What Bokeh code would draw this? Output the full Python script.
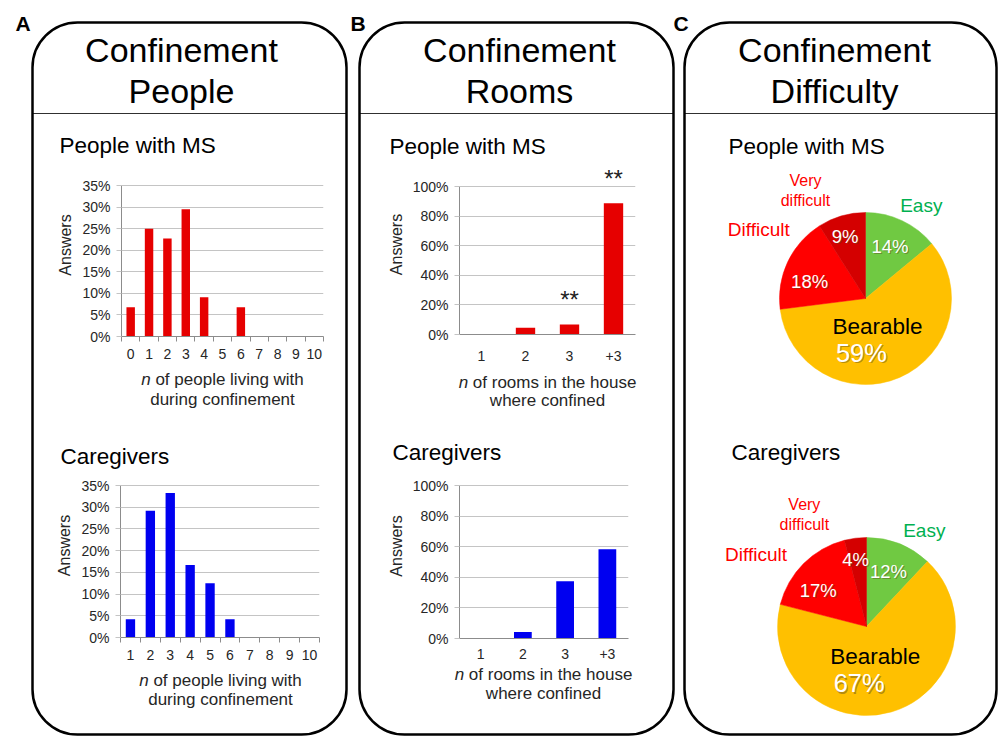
import numpy as np
from bokeh.plotting import figure
from bokeh.layouts import column
from bokeh.models import (ColumnDataSource, FixedTicker, BoxAnnotation, LabelSet,
                          PrintfTickFormatter, Range1d)
from bokeh.embed import file_html
from bokeh.resources import INLINE
from bokeh.core.properties import value

W, H = 998, 736
FONT = "Liberation Sans"

# ---------------- data ----------------
ms_people_cats = ["0", "1", "2", "3", "4", "5", "6", "7", "8", "9", "10"]
ms_people_pct = [6.8, 25.0, 22.7, 29.5, 9.1, 0.0, 6.8, 0.0, 0.0, 0.0, 0.0]
cg_people_cats = ["1", "2", "3", "4", "5", "6", "7", "8", "9", "10"]
cg_people_pct = [4.2, 29.2, 33.3, 16.7, 12.5, 4.2, 0.0, 0.0, 0.0, 0.0]
room_cats = ["1", "2", "3", "+3"]
ms_rooms_pct = [0.0, 4.5, 6.8, 88.6]
ms_rooms_sig = ["", "", "**", "**"]
cg_rooms_pct = [0.0, 4.2, 37.5, 58.3]
cg_rooms_sig = ["", "", "", ""]
difficulty_cats = ["Easy", "Bearable", "Difficult", "Very difficult"]
ms_difficulty_pct = [14, 59, 18, 9]
cg_difficulty_pct = [12, 67, 17, 4]
people_ticks = [0, 5, 10, 15, 20, 25, 30, 35]
rooms_ticks = [0, 20, 40, 60, 80, 100]

# ---------------- styles ----------------
RED = "#E60000"
BLUE = "#0000F0"
PIE_COLORS = ["#70C942", "#FFC000", "#FF0000", "#D40000"]
AXIS_GRAY = "#8C8C8C"
GRID_GRAY = "#C4C4C4"
TICK_TEXT = "#262626"

AW = {" ": 278, "a": 556, "b": 556, "c": 500, "d": 556, "e": 556, "f": 278, "g": 556,
      "h": 556, "i": 222, "l": 222, "m": 833, "n": 556, "o": 556, "p": 556, "r": 333,
      "s": 500, "t": 278, "u": 556, "v": 500, "w": 722}


def tw(s, size):
    return sum(AW.get(ch, 556) for ch in s) / 1000.0 * size


# ---------------- background canvas ----------------
bg = figure(width=W, height=H, x_range=Range1d(0, W), y_range=Range1d(0, H),
            x_axis_type=None, y_axis_type=None, output_backend="svg",
            toolbar_location=None, min_border=0, outline_line_color=None,
            background_fill_color="white", border_fill_color="white")
bg.frame_align = False


def txt(x, y, s, size, color="black", align="left", baseline="middle",
        style="normal", alpha=1.0):
    bg.text(x=[x], y=[H - y], text=[s], text_font=value(FONT),
            text_font_size=f"{size}px", text_color=color, text_align=align,
            text_baseline=baseline, text_font_style=style, text_alpha=alpha)


panels = [(32, 346, 181, "A", 15, ["Confinement", "People"]),
          (359, 673, 519, "B", 350, ["Confinement", "Rooms"]),
          (684, 996, 834, "C", 673, ["Confinement", "Difficulty"])]
for l, r, cx, letter, lx, head in panels:
    bg.add_layout(BoxAnnotation(left=l, right=r, top=H - 22, bottom=H - 734,
                                border_radius=45, fill_color=None, fill_alpha=0,
                                line_color="black", line_alpha=1.0, line_width=2.5))
    bg.segment(x0=[l], x1=[r], y0=[H - 113], y1=[H - 113], line_color="#303030",
               line_width=1.2)
    txt(cx, 49, head[0], 34, align="center")
    txt(cx, 90, head[1], 34, align="center")
    txt(lx, 22.5, letter, 21, style="bold")

# section subtitles
for x, y, s in [(59, 144.5, "People with MS"), (60, 456, "Caregivers"),
                (389, 146, "People with MS"), (392, 452, "Caregivers"),
                (728, 146, "People with MS"), (731, 452, "Caregivers")]:
    txt(x, y, s, 22.5)


def x_title(cx, y1, y2, rest, line2, size=17):
    total = tw("n " + rest, size)
    x0 = cx - total / 2
    txt(x0, y1, "n", size, color=TICK_TEXT, style="italic")
    txt(x0 + tw("n ", size), y1, rest, size, color=TICK_TEXT)
    txt(cx, y2, line2, size, color=TICK_TEXT, align="center")


x_title(222, 379, 399, "of people living with", "during confinement")
x_title(220, 680, 699, "of people living with", "during confinement")
x_title(547, 382, 400, "of rooms in the house", "where confined")
x_title(543, 674, 693, "of rooms in the house", "where confined")


# ---------------- pies ----------------
def pie(cx, cy, r, pct):
    fr = np.array(pct, dtype=float) / np.sum(pct)
    cum = np.concatenate([[0.0], np.cumsum(fr)])
    start = np.pi / 2 - 2 * np.pi * cum[1:]
    end = np.pi / 2 - 2 * np.pi * cum[:-1]
    src = ColumnDataSource(dict(start=start, end=end, color=PIE_COLORS,
                                cat=difficulty_cats))
    bg.wedge(x=cx, y=H - cy, radius=r, start_angle="start", end_angle="end",
             fill_color="color", line_color="color", line_width=0.5, source=src)
    mid = (start + end) / 2

    def at(i, f, cw_shift_deg=0.0):
        a = mid[i] - np.deg2rad(cw_shift_deg)
        return cx + f * r * np.cos(a), cy - f * r * np.sin(a)

    def shadow_txt(x, y, s, size):
        txt(x + 1.2, y + 1.2, s, size, color="#5a4a20", align="center", alpha=0.45)
        txt(x, y, s, size, color="white", align="center")

    # percentages inside
    x, y = at(0, 0.67, 0)
    shadow_txt(x, y, f"{pct[0]}%", 18.5)
    x, y = at(2, 0.68, -8)
    shadow_txt(x, y, f"{pct[2]}%", 18.5)
    x, y = at(3, 0.76, -2)
    shadow_txt(x, y, f"{pct[3]}%", 18.5)
    bx, by = at(1, 0.35)
    txt(bx, by, difficulty_cats[1], 22.5, color="black", align="center")
    shadow_txt(bx - 16, by + 27, f"{pct[1]}%", 25.5)

    # outer category labels
    def outer(angle_deg, f):
        a = np.deg2rad(90 - angle_deg)
        return cx + f * r * np.cos(a), cy - f * r * np.sin(a)

    x, y = outer(31, 1.26)
    txt(x, y, difficulty_cats[0], 19, color="#00B050", align="center")
    x, y = outer(-57, 1.48)
    txt(x, y, difficulty_cats[2], 19, color="#FF0000", align="center")
    x, y = outer(-29, 1.44)
    w1, w2 = difficulty_cats[3].split(" ")
    txt(x, y - 10, w1.capitalize(), 16, color="#FF0000", align="center")
    txt(x, y + 10, w2, 16, color="#FF0000", align="center")


pie(865, 298, 86, ms_difficulty_pct)
pie(866, 626, 89, cg_difficulty_pct)


# ---------------- bar charts ----------------
HEAD = 32  # extra room above the top tick for annotations


def bar_chart(cats, pct, color, frame, ticks, bar_w, boundary_ticks, sig, x_standoff):
    fl, ft, fr, fb = frame
    ml, mt, mr, mb = 90, 10, 12, 45
    fw = int(round(fr - fl))
    core_h = int(round(fb - ft))
    fh = core_h + HEAD
    top_tick = ticks[-1]
    y_end = top_tick * fh / core_h
    n = len(cats)
    p = figure(width=fw + ml + mr, height=fh + mt + mb,
               x_range=Range1d(-0.5, n - 0.5), y_range=Range1d(0, y_end),
               output_backend="svg", toolbar_location=None,
               min_border_left=ml, min_border_right=mr, min_border_top=mt,
               min_border_bottom=mb, background_fill_color=None,
               border_fill_color=None, outline_line_color=None)
    p.frame_align = False
    p.styles = {"position": "absolute", "left": f"{fl - ml:.1f}px",
                "top": f"{fb - fh - mt:.1f}px"}
    src = ColumnDataSource(dict(x=list(range(n)), top=pct, cat=cats, sig=sig))
    p.vbar(x="x", top="top", width=bar_w, source=src, fill_color=color,
           line_color=None)

    p.ygrid.ticker = FixedTicker(ticks=ticks)
    p.ygrid.grid_line_color = GRID_GRAY
    p.ygrid.grid_line_width = 1
    p.xgrid.grid_line_color = None

    yax = p.yaxis[0]
    yax.ticker = FixedTicker(ticks=ticks)
    yax.bounds = (0, top_tick)
    yax.formatter = PrintfTickFormatter(format="%d%%")
    yax.axis_label = "Answers"
    yax.axis_label_text_font = FONT
    yax.axis_label_text_font_size = "16px"
    yax.axis_label_text_font_style = "normal"
    yax.axis_label_text_color = TICK_TEXT
    yax.axis_label_standoff = 5
    yax.major_label_text_font = FONT
    yax.major_label_text_font_size = "14px"
    yax.major_label_text_color = TICK_TEXT
    yax.major_label_standoff = 6
    yax.axis_line_color = AXIS_GRAY
    yax.major_tick_line_color = GRID_GRAY
    yax.major_tick_out = 5
    yax.major_tick_in = 0
    yax.minor_tick_line_color = None

    xax = p.xaxis[0]
    xax.ticker = FixedTicker(ticks=list(range(n)),
                             minor_ticks=[i - 0.5 for i in range(n + 1)] if boundary_ticks else [])
    xax.major_label_overrides = {i: c for i, c in enumerate(cats)}
    xax.major_label_text_font = FONT
    xax.major_label_text_font_size = "14px"
    xax.major_label_text_color = TICK_TEXT
    xax.major_label_standoff = x_standoff
    xax.major_tick_line_color = None
    xax.major_tick_out = 0
    xax.major_tick_in = 0
    xax.minor_tick_line_color = AXIS_GRAY if boundary_ticks else None
    xax.minor_tick_out = 5 if boundary_ticks else 0
    xax.minor_tick_in = 0
    xax.axis_line_color = AXIS_GRAY

    if any(sig):
        p.add_layout(LabelSet(x="x", y="top", text="sig", source=src,
                              text_align="center", text_baseline="middle",
                              y_offset=25, text_font=value(FONT),
                              text_font_size="24px", text_color="#222222"))
    return p


charts = [
    bar_chart(ms_people_cats, ms_people_pct, RED, (120.7, 185, 323, 335.7),
              people_ticks, 0.46, True, [""] * len(ms_people_cats), 7),
    bar_chart(cg_people_cats, cg_people_pct, BLUE, (120, 485, 319.3, 636.7),
              people_ticks, 0.47, True, [""] * len(cg_people_cats), 7),
    bar_chart(room_cats, ms_rooms_pct, RED, (459, 185.7, 635, 334),
              rooms_ticks, 0.44, False, ms_rooms_sig, 16),
    bar_chart(room_cats, cg_rooms_pct, BLUE, (459, 485.7, 628, 638.3),
              rooms_ticks, 0.42, False, cg_rooms_sig, 10),
]

layout = column(bg, *charts)
open("out.html", "w").write(file_html(layout, INLINE, title="Confinement"))
